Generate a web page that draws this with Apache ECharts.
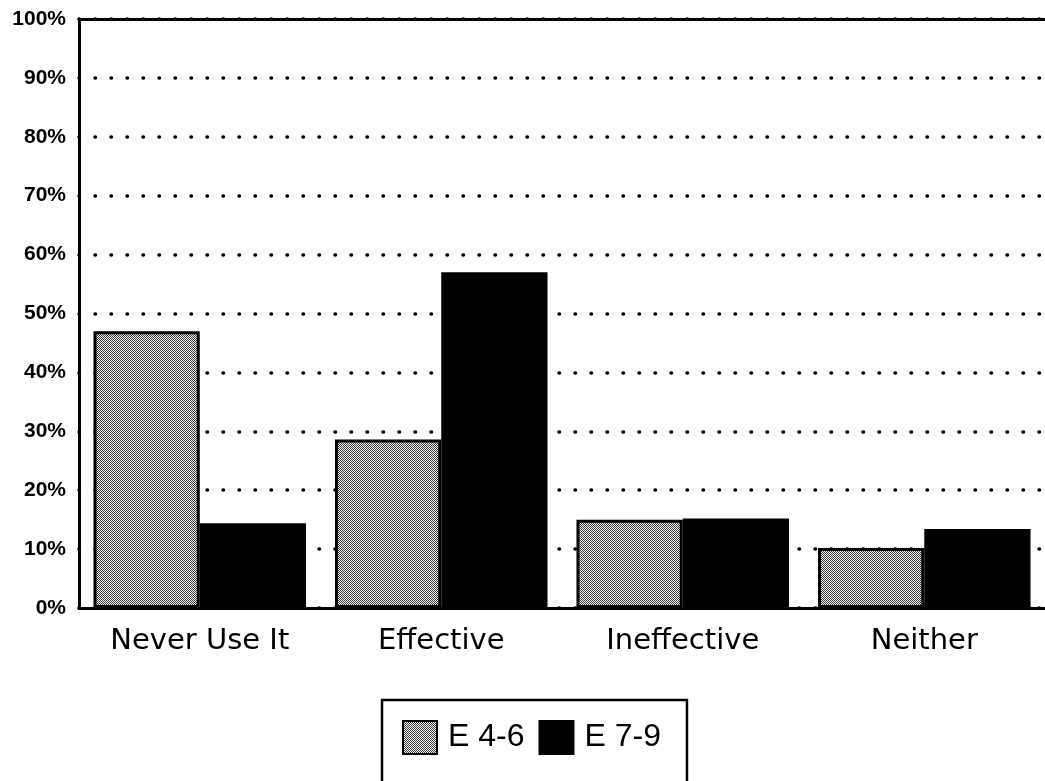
<!DOCTYPE html>
<html>
<head>
<meta charset="utf-8">
<script src="https://cdn.jsdelivr.net/npm/echarts@6/dist/echarts.min.js"></script>
<style>
  html, body { margin: 0; padding: 0; background: #fff; }
  #main { width: 1045px; height: 781px; }
</style>
</head>
<body>
<div id="main"></div>
<script>
var categories = ['Never Use It', 'Effective', 'Ineffective', 'Neither'];
var seriesNames = ['E 4-6', 'E 7-9'];
var e46 = [47, 28.6, 15, 10.2];
var e79 = [14.4, 57, 15.2, 13.4];

// dotted halftone fill for the grey bars
function makeDots() {
  var c = document.createElement('canvas');
  c.width = 4; c.height = 4;
  var ctx = c.getContext('2d');
  ctx.fillStyle = '#f4f4f4';
  ctx.fillRect(0, 0, 4, 4);
  ctx.fillStyle = '#3a3a3a';
  for (var x = 0; x < 4; x++) {
    for (var y = 0; y < 4; y++) {
      if ((x + y) % 2 === 0) ctx.fillRect(x, y, 1, 1);
    }
  }
  return c;
}
var greyFill = { image: makeDots(), repeat: 'repeat' };

var myChart = echarts.init(document.getElementById('main'));
var option = {
  animation: false,
  backgroundColor: '#fff',
  grid: { left: 79, right: 0, top: 19, bottom: 173 },
  legend: {
    left: 382,
    top: 700,
    orient: 'horizontal',
    data: seriesNames,
    itemWidth: 34,
    itemHeight: 33,
    itemGap: 14,
    icon: 'rect',
    borderColor: '#000',
    borderWidth: 2.5,
    padding: [20, 26, 40, 20],
    textStyle: {
      fontFamily: 'Liberation Sans, Arial, sans-serif',
      fontSize: 32,
      color: '#000',
      padding: [0, 0, 0, 6]
    }
  },
  xAxis: [{
    type: 'category',
    data: categories,
    axisLine: { lineStyle: { color: '#000', width: 3 } },
    axisTick: { show: false },
    axisLabel: {
      fontFamily: 'DejaVu Sans, sans-serif',
      fontSize: 29,
      color: '#000',
      margin: 19
    }
  }, {
    type: 'category',
    data: categories,
    position: 'top',
    axisLine: { lineStyle: { color: '#000', width: 3 } },
    axisTick: { show: false },
    axisLabel: { show: false }
  }],
  yAxis: {
    type: 'value',
    min: 0,
    max: 100,
    interval: 10,
    axisLine: { show: true, lineStyle: { color: '#000', width: 3 } },
    axisTick: { show: false },
    axisLabel: {
      formatter: '{value}%',
      fontFamily: 'Liberation Sans, Arial, sans-serif',
      fontWeight: 'bold',
      fontSize: 21,
      color: '#000',
      margin: 13
    },
    splitLine: {
      show: true,
      lineStyle: { color: '#000', width: 3.5, type: [0.5, 15.5], cap: 'round' }
    }
  },
  series: [{
    name: seriesNames[0],
    type: 'bar',
    barGap: '0%',
    barCategoryGap: '12%',
    itemStyle: { color: greyFill, borderColor: '#000', borderWidth: 3 },
    data: e46
  }, {
    name: seriesNames[1],
    type: 'bar',
    barGap: '0%',
    barCategoryGap: '12%',
    itemStyle: { color: '#000', borderColor: '#000', borderWidth: 3 },
    data: e79
  }]
};
myChart.setOption(option);
</script>
</body>
</html>
